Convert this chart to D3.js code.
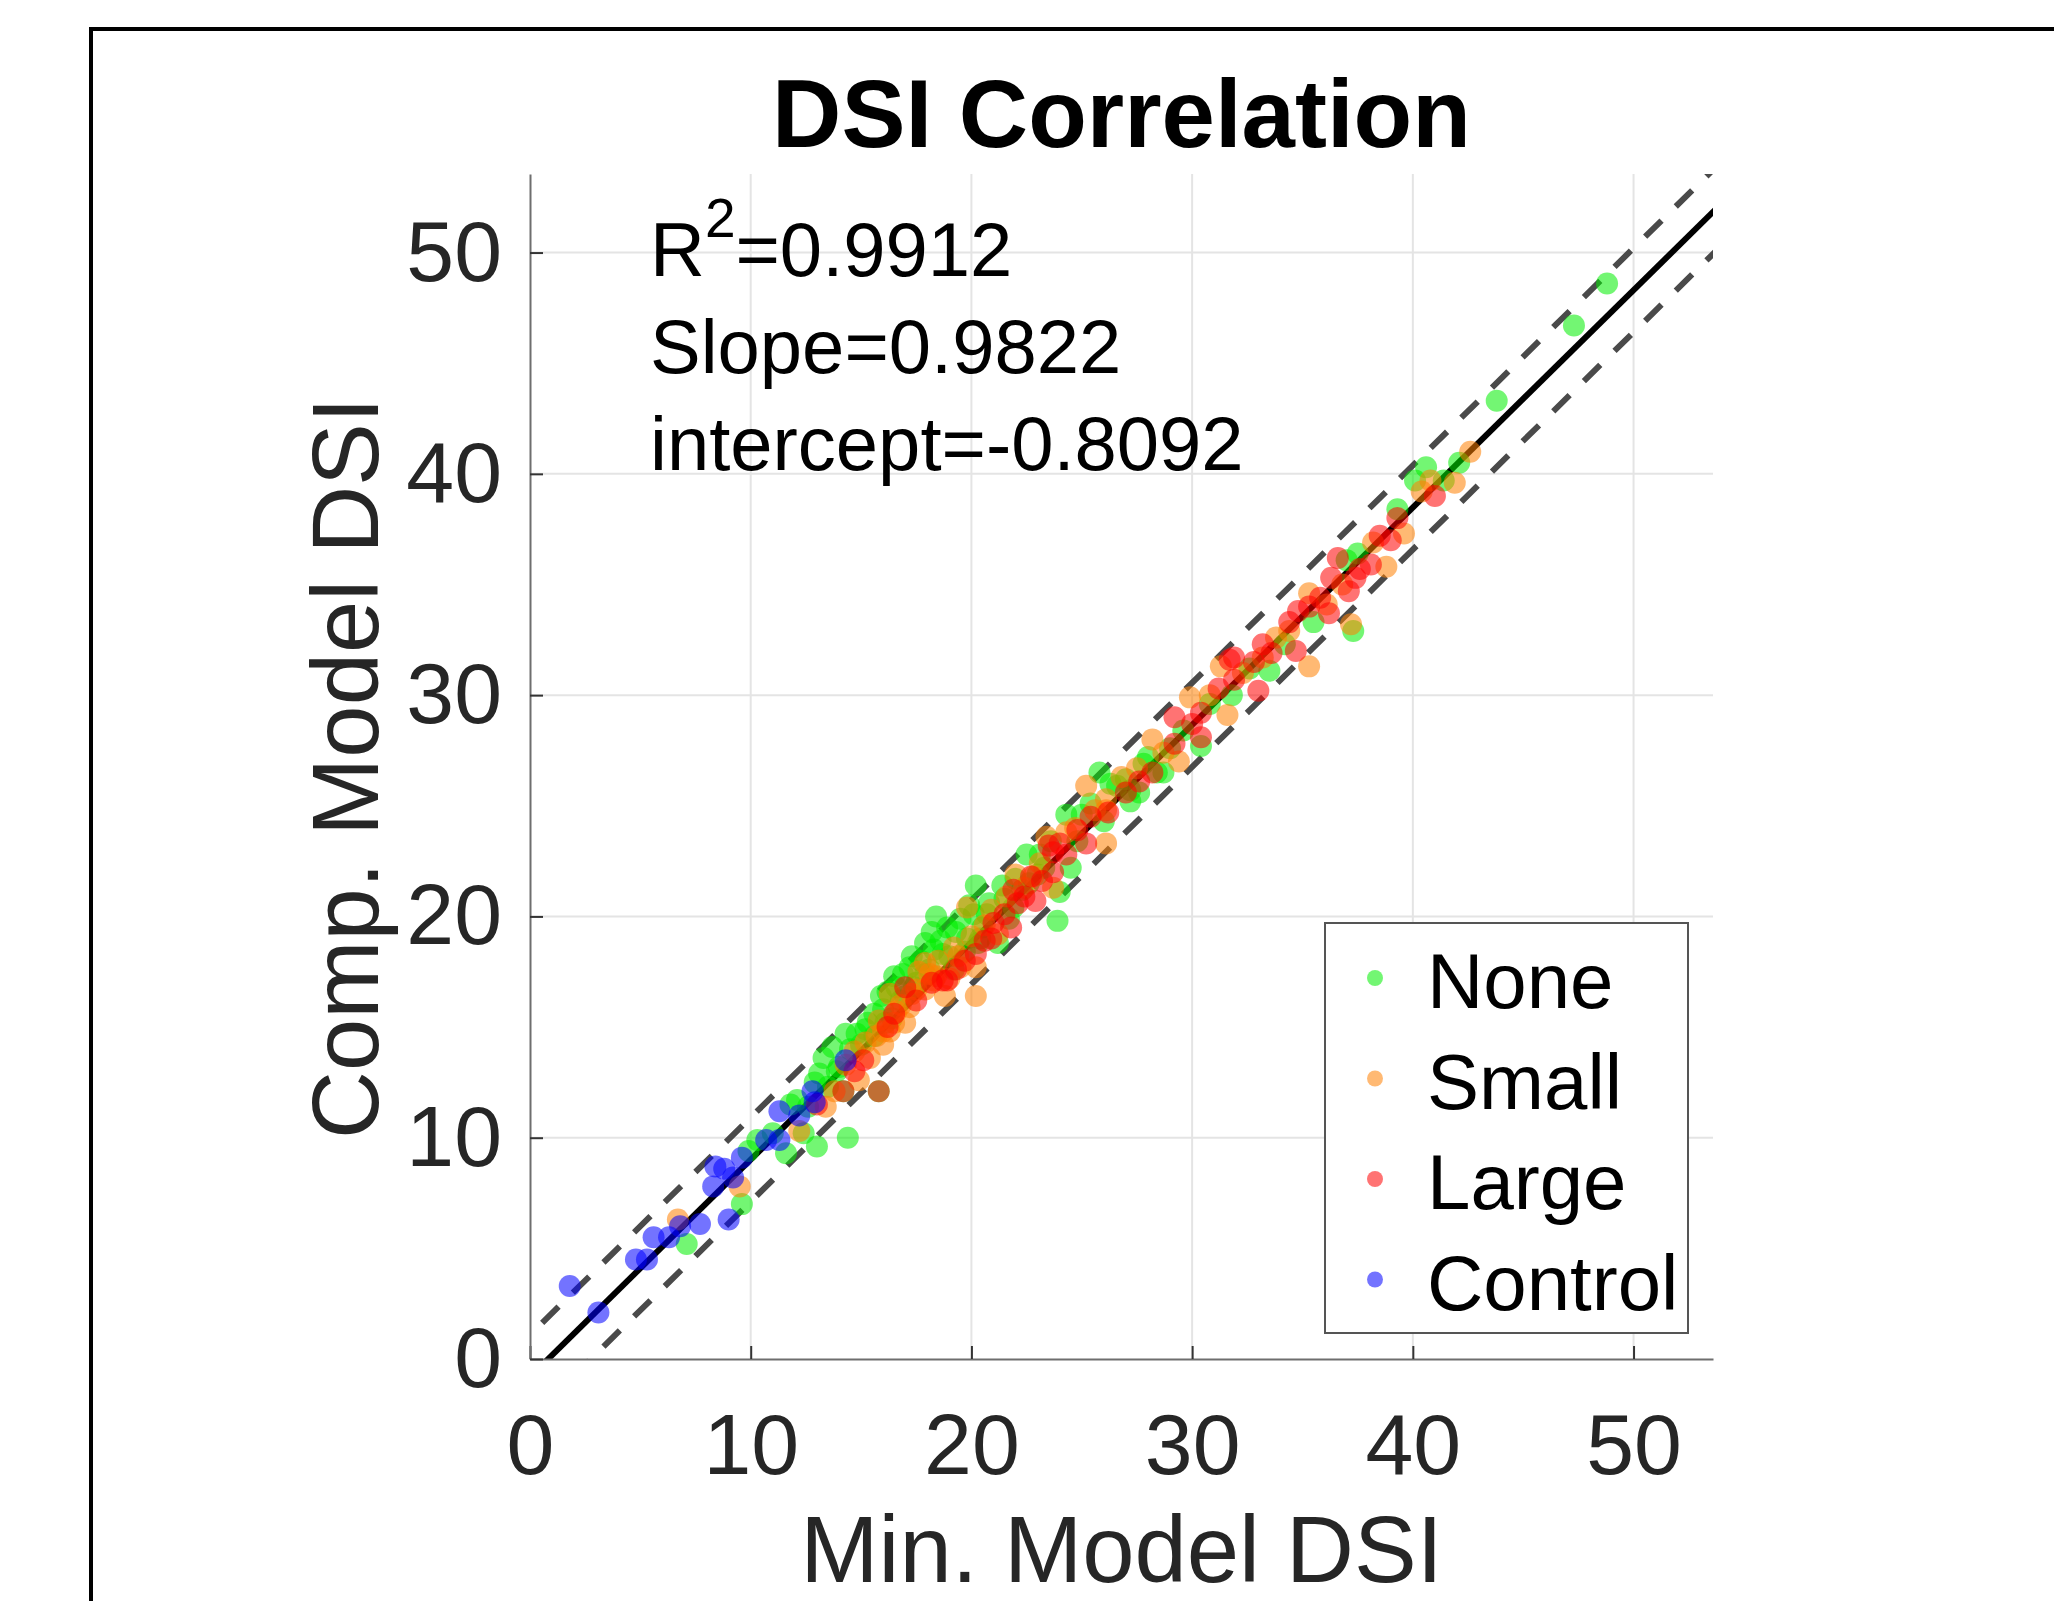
<!DOCTYPE html>
<html>
<head>
<meta charset="utf-8">
<script src="https://cdn.jsdelivr.net/npm/d3@7"></script>
<style>
    body { margin: 0; background: #fff; }
    text { font-family: "Liberation Sans", Arial, sans-serif; }
</style>
</head>
<body>
<svg id="chart" width="2054" height="1601"></svg>
<script>
// values, [Min. Model DSI, Comp. Model DSI]
const noneData = [
    [7.1,5.2],[9.6,7.0],[9.9,9.4],[10.3,9.9],[11.0,10.2],[11.6,9.3],[12.1,11.7],[12.4,10.2],[13.0,9.6],
    [13.1,12.9],[13.7,14.1],[14.3,14.7],[14.4,10.0],[14.8,14.7],[15.3,15.2],[16.0,15.8],[16.5,17.3],
    [16.8,16.2],[16.9,17.4],[17.2,17.7],[17.9,18.8],[18.3,18.5],[18.4,20.0],[18.9,19.5],[19.5,19.9],
    [20.1,20.1],[20.2,21.4],[21.2,18.8],[22.5,22.8],[23.9,19.8],[24.0,21.1],[23.1,22.8],[24.3,24.6],
    [24.5,22.2],[25.8,26.5],[27.2,25.7],[27.2,25.2],[27.6,25.6],[27.8,26.9],[28.4,26.5],[28.7,26.5],
    [30.4,27.7],[31.8,30.0],[33.5,31.1],[34.2,32.3],[35.5,33.3],[37.0,36.1],[37.3,32.9],[37.5,36.4],
    [39.3,38.4],[40.1,39.7],[40.6,40.3],[41.4,39.7],[42.1,40.5],[43.8,43.3],[47.3,46.7],[48.8,48.6],
    [15.0,14.2],[15.6,14.6],[16.2,16.6],[17.0,16.4],[17.5,17.0],[18.1,17.6],[19.0,18.2],[19.8,19.0],
    [20.5,19.5],[20.8,20.6],[21.5,20.8],[22.0,21.7],[22.6,21.5],[23.3,22.2],[25.0,24.6],[26.0,24.3],
    [26.6,25.9],[29.0,27.6],[29.6,28.4],[30.8,29.6],[32.6,31.2],[12.6,11.4],[11.8,11.5],[13.5,12.3],
    [14.0,13.2],[17.3,18.2],[18.6,18.9],[19.2,17.6],[20.4,19.0],[21.9,20.4],[15.6,15.6],[16.4,15.4],
    [14.2,12.1],[15.8,12.1],
    [13.3,13.6],[13.9,13.0],[14.5,14.0],[15.2,14.9],[15.9,16.4],[16.6,16.8],[17.4,16.8],[17.9,17.4],
    [18.2,19.3],[18.7,18.3],[19.3,19.3],[19.9,20.5],[20.3,18.8],[20.7,20.1],[21.4,21.4],[21.7,19.9],
    [22.3,21.2],[23.0,21.9],[23.6,23.4],[24.8,23.4],[25.4,25.1],[26.3,26.0],[27.0,26.2],[28.0,27.2],
    [12.9,12.5],[16.1,15.2],[17.7,18.0],[19.7,18.4]
];
const smallData = [
    [6.7,6.3],[9.5,7.8],[12.2,10.3],[13.4,11.4],[14.7,13.9],[14.9,12.6],[15.7,14.6],[16.0,14.8],
    [16.3,16.5],[16.5,15.2],[17.2,15.9],[17.5,16.7],[17.9,16.7],[18.1,17.4],[18.3,17.1],[19.2,18.6],
    [19.5,17.7],[19.8,20.4],[20.2,16.4],[20.2,17.7],[22.0,21.9],[22.8,21.8],[23.4,23.6],[23.7,21.3],
    [24.3,23.8],[25.2,25.9],[26.1,23.3],[26.1,24.8],[26.1,25.3],[26.8,26.3],[28.2,28.0],[29.4,27.0],
    [29.9,29.9],[31.3,31.3],[31.6,29.1],[33.2,31.7],[33.8,32.6],[35.3,31.3],[35.3,34.6],[36.1,34.1],
    [37.2,33.2],[38.8,35.8],[39.6,37.3],[40.4,39.2],[40.8,39.7],[41.9,39.6],[42.6,41.0],
    [15.4,13.6],[16.0,14.2],[16.8,16.0],[17.0,15.2],[18.5,18.0],[19.0,17.2],[18.8,16.4],[20.6,19.6],
    [21.2,19.2],[17.6,17.5],[16.3,14.8],[13.8,12.1],
    [14.3,13.3],[15.2,14.3],[15.8,15.3],[16.6,15.7],[17.3,16.5],[17.9,17.9],[18.4,17.3],[19.4,18.2],
    [20.0,19.1],[20.9,20.3],[21.6,20.9],[22.4,21.3],[23.1,22.4],[24.7,24.0],[25.6,24.8],[27.5,26.7],
    [28.7,27.4],[30.8,30.0],[32.3,31.0],[34.4,32.9],[36.8,35.0],[38.2,36.9]
];
const largeData = [
    [13.0,11.5],[14.2,12.1],[15.1,13.5],[15.8,12.1],[18.7,17.1],[18.9,17.1],[19.3,17.6],[20.2,18.3],
    [21.0,19.7],[21.8,19.5],[21.9,21.2],[22.1,20.6],[22.7,21.8],[22.9,20.7],[23.5,23.2],[23.7,22.9],
    [23.7,22.0],[24.3,22.8],[25.2,23.3],[25.4,24.5],[26.2,24.7],[28.2,26.5],[29.2,27.8],[29.2,29.0],
    [30.4,28.1],[30.4,29.2],[31.7,31.6],[31.9,30.7],[31.9,31.7],[32.8,31.5],[33.0,30.2],[33.2,32.3],
    [34.4,33.3],[34.7,32.0],[34.8,33.8],[35.3,34.0],[36.2,33.7],[36.3,35.3],[36.6,36.2],[37.1,34.7],
    [37.4,35.3],[37.6,35.7],[38.1,35.9],[39.0,37.0],[39.3,38.0],[41.0,39.0],
    [17.5,16.2],[16.5,15.6],[20.6,18.9],[27.0,25.6],
    [14.7,13.0],[16.2,15.0],[17.0,16.8],[18.2,17.0],[19.7,18.0],[20.9,19.0],[21.5,20.1],[22.4,20.9],
    [23.2,21.6],[24.0,23.3],[24.8,23.9],[27.6,26.1],[30.0,28.7],[31.2,30.3],[33.6,31.9],[35.8,34.4],
    [38.5,37.2]
];
const controlData = [
    [1.8,3.3],[3.1,2.1],[4.8,4.5],[5.3,4.5],[5.6,5.5],[6.3,5.5],[6.8,6.0],[7.7,6.1],[9.0,6.3],
    [8.3,7.8],[8.4,8.7],[8.8,8.6],[9.2,8.2],[9.6,9.1],[10.7,9.9],[11.3,9.9],[11.3,11.2],[12.2,11.0],
    [12.8,12.1],[12.9,11.6],[14.3,13.5]
];

const groups = ["None", "Small", "Large", "Control"];
const groupData = [noneData, smallData, largeData, controlData];
const groupColors = ["#00ee00", "#ff8000", "#ff0000", "#0000ff"];

const fitSlope = 0.9822;
const fitIntercept = -0.8092;
const fitR2 = 0.9912;
const bandOffset = 1.9;

const xTicks = [0, 10, 20, 30, 40, 50];
const yTicks = [0, 10, 20, 30, 40, 50];
const xMax = 53.6;
const yMax = 53.55;

const svg = d3.select("#chart");

const plot = { left: 530, right: 1713, top: 174, bottom: 1359 };

const x = d3.scaleLinear().domain([0, xMax]).range([plot.left, plot.right]);
const y = d3.scaleLinear().domain([0, yMax]).range([plot.bottom, plot.top]);

// figure frame
svg.append("path")
    .attr("d", `M91,1601 L91,29 L2054,29`)
    .attr("fill", "none")
    .attr("stroke", "#000")
    .attr("stroke-width", 4);

// grid
const gridG = svg.append("g");
gridG.selectAll(".vg")
    .data(xTicks.slice(1))
    .enter()
    .append("line")
    .attr("x1", d => x(d)).attr("x2", d => x(d))
    .attr("y1", plot.top).attr("y2", plot.bottom)
    .attr("stroke", "#e4e4e4")
    .attr("stroke-width", 2);
gridG.selectAll(".hg")
    .data(yTicks.slice(1))
    .enter()
    .append("line")
    .attr("x1", plot.left).attr("x2", plot.right)
    .attr("y1", d => y(d)).attr("y2", d => y(d))
    .attr("stroke", "#e4e4e4")
    .attr("stroke-width", 2);

svg.append("clipPath")
    .attr("id", "plotClip")
    .append("rect")
    .attr("x", plot.left).attr("y", plot.top)
    .attr("width", plot.right - plot.left)
    .attr("height", plot.bottom - plot.top);

const lineG = svg.append("g").attr("clip-path", "url(#plotClip)");
const fitLine = off => d3.line()
    .x(d => x(d))
    .y(d => y(fitSlope * d + fitIntercept + off));

[bandOffset, -bandOffset].forEach(off => {
    lineG.append("path")
        .datum([-5, 60])
        .attr("d", fitLine(off))
        .attr("fill", "none")
        .attr("stroke", "#4a4a4a")
        .attr("stroke-width", 6)
        .attr("stroke-dasharray", "23,20");
});
lineG.append("path")
    .datum([-5, 60])
    .attr("d", fitLine(0))
    .attr("fill", "none")
    .attr("stroke", "#000")
    .attr("stroke-width", 6);

// points
const pointsG = svg.append("g");
groupData.forEach((data, i) => {
    pointsG.append("g")
        .selectAll("circle")
        .data(data)
        .enter()
        .append("circle")
        .attr("cx", d => x(d[0]))
        .attr("cy", d => y(d[1]))
        .attr("r", 11)
        .attr("fill", groupColors[i])
        .attr("fill-opacity", 0.55);
});

// axes
const axisColor = "#6e6e6e";
const xAxis = svg.append("g")
    .attr("transform", `translate(0,${plot.bottom})`)
    .call(d3.axisBottom(x).tickValues(xTicks).tickSizeInner(-13).tickSizeOuter(0).tickPadding(54));
const yAxis = svg.append("g")
    .attr("transform", `translate(${plot.left},0)`)
    .call(d3.axisLeft(y).tickValues(yTicks).tickSizeInner(-13).tickSizeOuter(0).tickPadding(28));

[xAxis, yAxis].forEach(a => {
    a.select(".domain").attr("stroke", axisColor).attr("stroke-width", 2);
    a.selectAll(".tick line").attr("stroke", "#333").attr("stroke-width", 2);
    a.selectAll(".tick text")
        .attr("fill", "#262626")
        .style("font-size", "86px")
        .style("font-family", "'Liberation Sans', Arial, sans-serif");
});

// title and labels
svg.append("text")
    .attr("x", (plot.left + plot.right) / 2)
    .attr("y", 147)
    .attr("text-anchor", "middle")
    .style("font-size", "96px")
    .style("font-weight", "bold")
    .attr("fill", "#000")
    .text("DSI Correlation");

svg.append("text")
    .attr("x", (plot.left + plot.right) / 2)
    .attr("y", 1582)
    .attr("text-anchor", "middle")
    .style("font-size", "94px")
    .attr("fill", "#262626")
    .text("Min. Model DSI");

svg.append("text")
    .attr("transform", `translate(378,768) rotate(-90)`)
    .attr("text-anchor", "middle")
    .style("font-size", "94px")
    .attr("fill", "#262626")
    .text("Comp. Model DSI");

// fit statistics
const statsG = svg.append("g").attr("fill", "#000").style("font-size", "76px");
const r2 = statsG.append("text").attr("x", 650).attr("y", 276);
r2.append("tspan").text("R");
r2.append("tspan").attr("dy", -39).style("font-size", "55px").text("2");
r2.append("tspan").attr("dy", 39).text(`=${fitR2}`);
statsG.append("text").attr("x", 650).attr("y", 373).text(`Slope=${fitSlope}`);
statsG.append("text").attr("x", 650).attr("y", 470).text(`intercept=${fitIntercept}`);

// legend
const legendG = svg.append("g");
legendG.append("rect")
    .attr("x", 1325).attr("y", 923)
    .attr("width", 363).attr("height", 410)
    .attr("fill", "#fff")
    .attr("stroke", "#555")
    .attr("stroke-width", 2);

const items = legendG.selectAll(".item")
    .data(groups)
    .enter()
    .append("g")
    .attr("transform", (d, i) => `translate(0,${1008 + i * 100.5})`);
items.append("circle")
    .attr("cx", 1375)
    .attr("cy", -30)
    .attr("r", 8)
    .attr("fill", (d, i) => groupColors[i])
    .attr("fill-opacity", 0.55);
items.append("text")
    .attr("x", 1427)
    .attr("y", 0)
    .style("font-size", "78px")
    .attr("fill", "#000")
    .text(d => d);
</script>
</body>
</html>
